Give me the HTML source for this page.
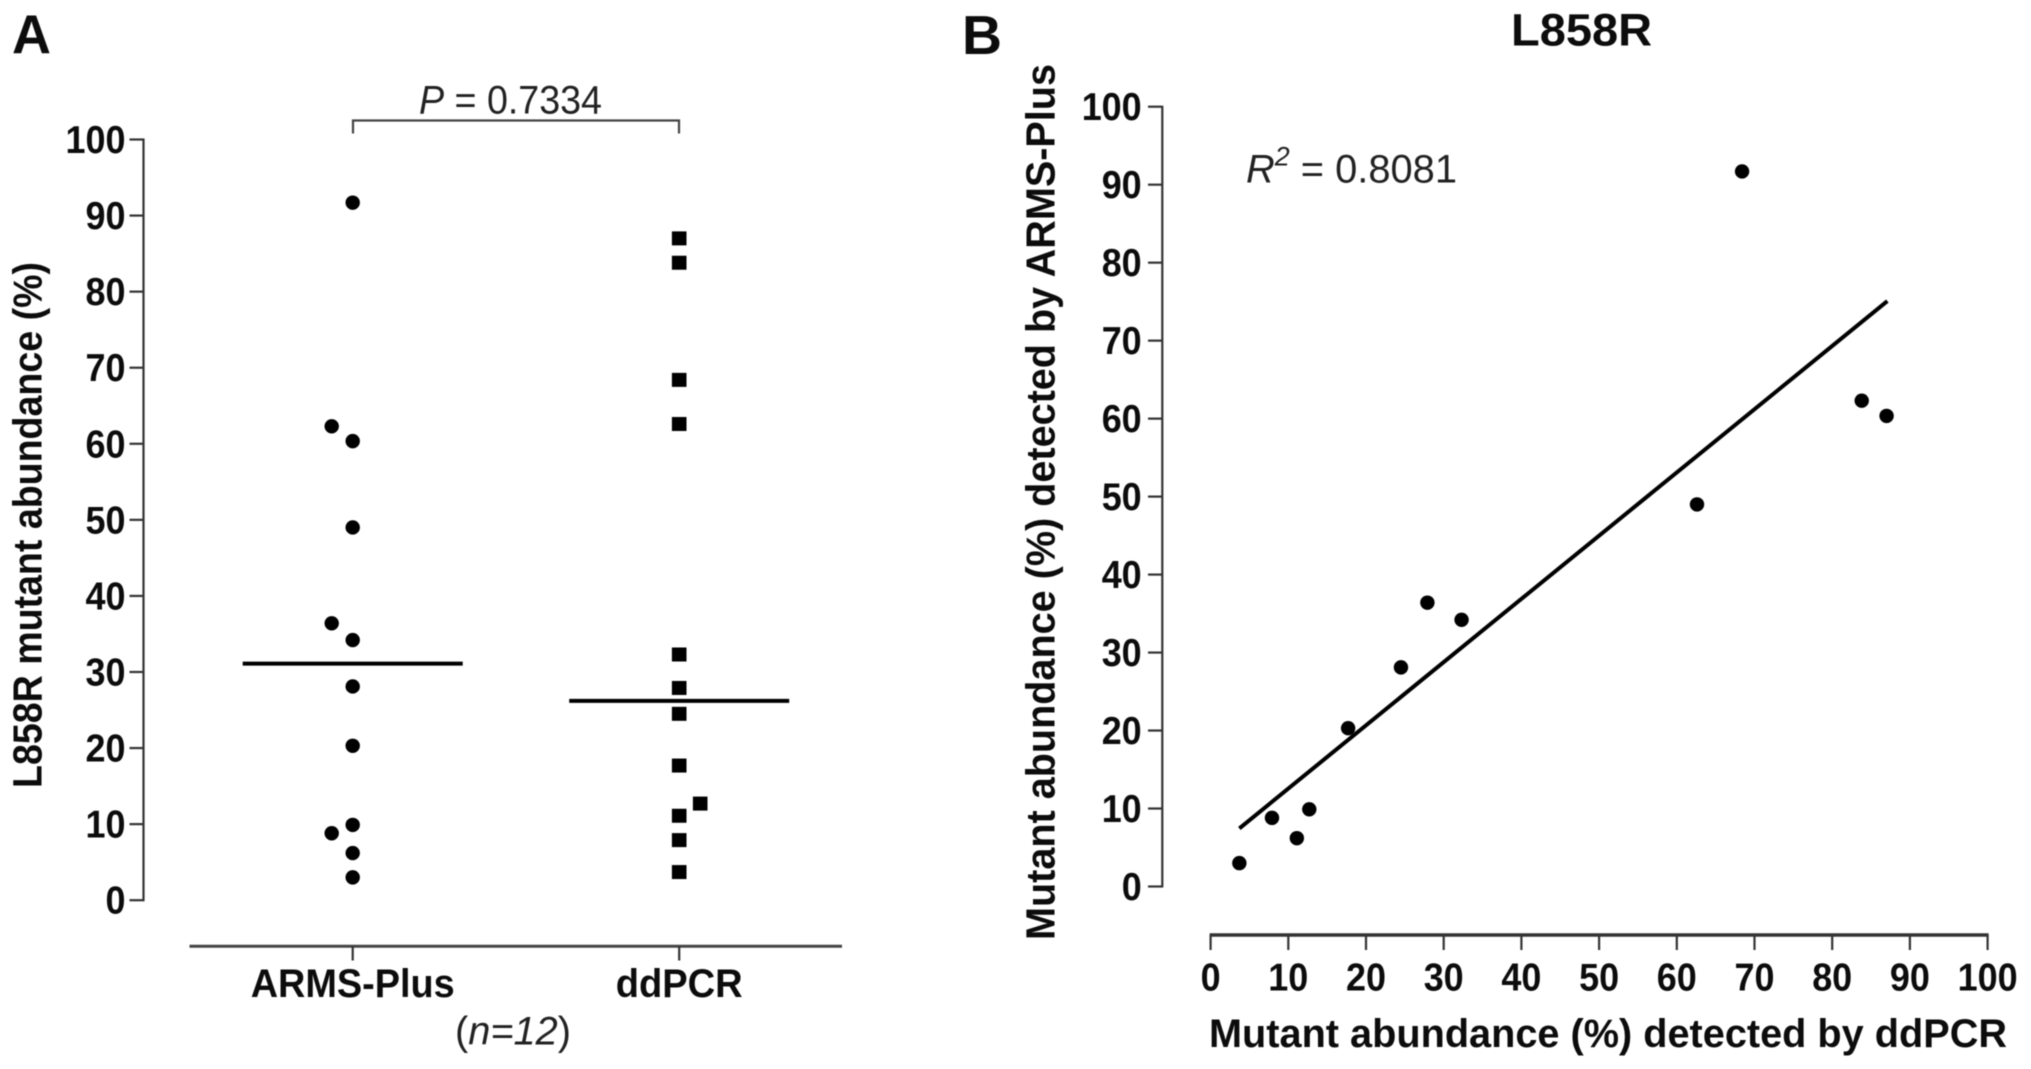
<!DOCTYPE html>
<html lang="en">
<head>
<meta charset="utf-8">
<title>L858R mutant abundance: ARMS-Plus vs ddPCR</title>
<style>
html,body{margin:0;padding:0;background:#fff;width:2031px;height:1069px;overflow:hidden}
svg{display:block;filter:blur(0.6px)}
text{font-family:"Liberation Sans",Arial,sans-serif;fill:#0c0c0c}
.bold{font-weight:700}
.thin{fill:#222}
.tick{font-weight:700;font-size:38.5px}
</style>
</head>
<body>
<svg id="figure" xmlns="http://www.w3.org/2000/svg" width="2031" height="1069" viewBox="0 0 2031 1069">
  <rect x="0" y="0" width="2031" height="1069" fill="#fff"/>

  <text class="bold" x="12" y="53" font-size="55" textLength="39" lengthAdjust="spacingAndGlyphs">A</text>
  <text class="bold" x="962" y="54" font-size="55" textLength="40" lengthAdjust="spacingAndGlyphs">B</text>
  <text class="bold" x="1511" y="45.5" font-size="45" textLength="141" lengthAdjust="spacingAndGlyphs">L858R</text>

  <text class="thin" x="419" y="113.5" font-size="40" textLength="183" lengthAdjust="spacingAndGlyphs"><tspan font-style="italic">P</tspan> = 0.7334</text>
  <path d="M353 133.5V120.5H679V133.5" fill="none" stroke="#444" stroke-width="2.2"/>

  <text class="bold" transform="translate(41.5 788) rotate(-90)" font-size="41" textLength="526" lengthAdjust="spacingAndGlyphs">L858R mutant abundance (%)</text>
  <text class="bold" transform="translate(1054.5 940) rotate(-90)" font-size="41" textLength="876" lengthAdjust="spacingAndGlyphs">Mutant abundance (%) detected by ARMS-Plus</text>
  <text class="bold" x="1209" y="1047" font-size="39.5" textLength="798" lengthAdjust="spacingAndGlyphs">Mutant abundance (%) detected by ddPCR</text>

  <text class="thin" x="455" y="1044.5" font-size="40" textLength="116" lengthAdjust="spacingAndGlyphs">(<tspan font-style="italic">n=12</tspan>)</text>

  <text class="thin" x="1246" y="182.5" font-size="40" textLength="211" lengthAdjust="spacingAndGlyphs"><tspan font-style="italic">R</tspan><tspan font-style="italic" font-size="27" dy="-17">2</tspan><tspan dy="17"> = 0.8081</tspan></text>

  <g id="panel-a"></g>
  <g id="panel-b"></g>
</svg>
<script>
// Paired samples: the same index is the same sample in both methods.
const armsValues = [91.7, 62.3, 60.35, 49.0, 36.4, 34.2, 28.1, 20.3, 9.9, 8.8, 6.2, 3.0];
const ddpcrValues = [68.4, 83.8, 87.0, 62.6, 27.9, 32.3, 24.5, 17.7, 12.7, 7.9, 11.1, 3.7];
// Swarm column of each point in panel A (-1 left, 0 centre, 1 right).
const armsLanes = [0, -1, 0, 0, -1, 0, 0, 0, 0, -1, 0, 0];
const ddpcrLanes = [0, 0, 0, 0, 0, 0, 0, 0, 1, 0, 0, 0];
const categories = ["ARMS-Plus", "ddPCR"];
const groupMeans = [31.1, 26.2];
const regressionX = [3.7, 87.1];
const regressionY = [7.45, 75.07];
const yTickValues = [0, 10, 20, 30, 40, 50, 60, 70, 80, 90, 100];
const xTickValues = [0, 10, 20, 30, 40, 50, 60, 70, 80, 90, 100];

const SVG_NS = "http://www.w3.org/2000/svg";
const panelA = document.getElementById("panel-a");
const panelB = document.getElementById("panel-b");

function make(parent, tag, attrs, content) {
  const el = document.createElementNS(SVG_NS, tag);
  for (const key in attrs) el.setAttribute(key, attrs[key]);
  if (content !== undefined) el.textContent = content;
  parent.appendChild(el);
  return el;
}

// Tick labels keep the reference's narrow digit width at the taller size.
function tickAttrs(x, y, anchor, v) {
  return {x: x, y: y, "text-anchor": anchor, class: "tick", textLength: String(v).length * 20, lengthAdjust: "spacingAndGlyphs"};
}

// Axis functions
const aY = v => 900.2 - v * 7.607;
const aX = c => 352.7 + c * 326.5;
const laneStep = 21;
const bY = v => 886.5 - v * 7.798;
const bX = v => 1210.6 + v * 7.77;

// Panel A axes
const aAxisY = make(panelA, "line", {x1: 143.5, x2: 143.5, y1: aY(100) - 1, y2: aY(0) + 1, stroke: "#333", "stroke-width": 2.2});


yTickValues.forEach(v => {
  const tick = make(panelA, "line", {x1: 129.5, x2: 143.5, y1: aY(v), y2: aY(v), stroke: "#333", "stroke-width": 2.2});
  
  
  const label = make(panelA, "text", tickAttrs(125.5, aY(v) + 13.5, "end", v), String(v));
  
  
});
const aAxisX = make(panelA, "line", {x1: 189.5, x2: 842, y1: 946.3, y2: 946.3, stroke: "#444", "stroke-width": 3});


const categoryWidths = [204, 127];
categories.forEach((name, i) => {
  const tick = make(panelA, "line", {x1: aX(i), x2: aX(i), y1: 946.3, y2: 960.5, stroke: "#333", "stroke-width": 2.2});
  
  
  const label = make(panelA, "text", {x: aX(i), y: 997, "text-anchor": "middle", class: "bold", "font-size": 39.5, textLength: categoryWidths[i], lengthAdjust: "spacingAndGlyphs"}, name);
  
  
  const mean = make(panelA, "line", {x1: aX(i) - 110, x2: aX(i) + 110, y1: aY(groupMeans[i]), y2: aY(groupMeans[i]), stroke: "#000", "stroke-width": 4});
  
  
});

// Panel A marks
armsValues.forEach((v, i) => {
  const dot = make(panelA, "circle", {cx: aX(0) + armsLanes[i] * laneStep, cy: aY(v), r: 7.2, fill: "#000"});
  
  
});
ddpcrValues.forEach((v, i) => {
  const square = make(panelA, "rect", {x: aX(1) + ddpcrLanes[i] * laneStep - 7.3, y: aY(v) - 7, width: 14.6, height: 14, fill: "#000"});
  
  
});

// Panel B axes
const bAxisY = make(panelB, "line", {x1: 1162.3, x2: 1162.3, y1: bY(100) - 1, y2: bY(0) + 1, stroke: "#333", "stroke-width": 2.2});


yTickValues.forEach(v => {
  const tick = make(panelB, "line", {x1: 1148, x2: 1162.3, y1: bY(v), y2: bY(v), stroke: "#333", "stroke-width": 2.2});
  
  
  const label = make(panelB, "text", tickAttrs(1141.7, bY(v) + 13.5, "end", v), String(v));
  
  
});
const bAxisX = make(panelB, "line", {x1: bX(0) - 1, x2: bX(100) + 1, y1: 935, y2: 935, stroke: "#333", "stroke-width": 3.5});


xTickValues.forEach(v => {
  const tick = make(panelB, "line", {x1: bX(v), x2: bX(v), y1: 935, y2: 950, stroke: "#333", "stroke-width": 2.2});
  
  
  const label = make(panelB, "text", tickAttrs(bX(v), 990.5, "middle", v), String(v));
  
  
});

// Panel B marks
const fit = make(panelB, "line", {x1: bX(regressionX[0]), y1: bY(regressionY[0]), x2: bX(regressionX[1]), y2: bY(regressionY[1]), stroke: "#000", "stroke-width": 4});


ddpcrValues.forEach((v, i) => {
  const dot = make(panelB, "circle", {cx: bX(v), cy: bY(armsValues[i]), r: 7.2, fill: "#000"});
  
  
});
</script>
</body>
</html>
